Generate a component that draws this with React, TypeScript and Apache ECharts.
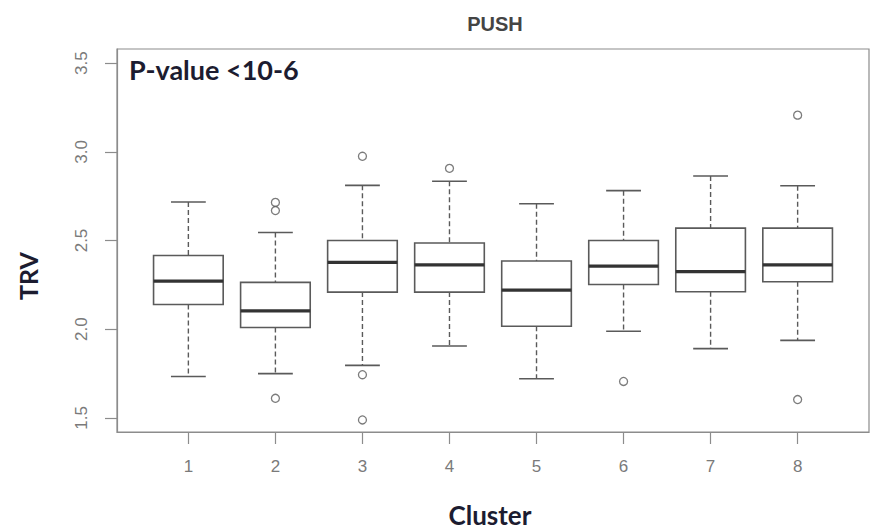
import React, { useEffect, useRef } from "react";
import * as echarts from "echarts";

const clusters = [1, 2, 3, 4, 5, 6, 7, 8];
const whiskerLow = [1.733, 1.749, 1.796, 1.905, 1.72, 1.988, 1.89, 1.937];
const q1 = [2.139, 2.009, 2.209, 2.209, 2.016, 2.252, 2.211, 2.267];
const median = [2.271, 2.103, 2.377, 2.362, 2.22, 2.356, 2.324, 2.362];
const q3 = [2.415, 2.264, 2.5, 2.486, 2.384, 2.5, 2.57, 2.57];
const whiskerHigh = [2.717, 2.545, 2.811, 2.834, 2.707, 2.781, 2.864, 2.809];
const outlierCluster = [2, 2, 2, 3, 3, 3, 4, 6, 8, 8];
const outlierValue = [2.715, 2.669, 1.61, 2.975, 1.743, 1.488, 2.907, 1.705, 3.207, 1.603];
const yTicks = [1.5, 2.0, 2.5, 3.0, 3.5];

const BOX_COLOR = "#5a5a5a";
const MED_COLOR = "#333333";
const AXIS_COLOR = "#8c8c8c";
const LABEL_COLOR = "#7a7a7a";

export default function App() {
  const ref = useRef<HTMLDivElement>(null);

  useEffect(() => {
    if (!ref.current) return;
    const chart = echarts.init(ref.current, null, { renderer: "svg" });

    const boxData = clusters.map((c, i) => [c, whiskerLow[i], q1[i], median[i], q3[i], whiskerHigh[i]]);
    const outData = outlierCluster.map((c, i) => [c, outlierValue[i]]);

    const renderItem = (params: any, api: any) => {
      const x = api.value(0);
      const lo = api.value(1);
      const a = api.value(2);
      const m = api.value(3);
      const b = api.value(4);
      const hi = api.value(5);
      const half = 0.4;
      const cap = 0.2;
      const pL = api.coord([x - half, a]);
      const pR = api.coord([x + half, b]);
      const center = api.coord([x, m]);
      const pLo = api.coord([x, lo]);
      const pHi = api.coord([x, hi]);
      const pA = api.coord([x, a]);
      const pB = api.coord([x, b]);
      const cL = api.coord([x - cap, lo])[0];
      const cR = api.coord([x + cap, lo])[0];
      const dash = { stroke: BOX_COLOR, lineWidth: 1.4, lineDash: [5, 3] };
      const solid = { stroke: BOX_COLOR, lineWidth: 1.6 };
      return {
        type: "group",
        children: [
          { type: "line", shape: { x1: pHi[0], y1: pHi[1], x2: pB[0], y2: pB[1] }, style: dash },
          { type: "line", shape: { x1: pA[0], y1: pA[1], x2: pLo[0], y2: pLo[1] }, style: dash },
          { type: "line", shape: { x1: cL, y1: pHi[1], x2: cR, y2: pHi[1] }, style: solid },
          { type: "line", shape: { x1: cL, y1: pLo[1], x2: cR, y2: pLo[1] }, style: solid },
          {
            type: "rect",
            shape: { x: pL[0], y: pR[1], width: pR[0] - pL[0], height: pL[1] - pR[1] },
            style: { fill: "#ffffff", stroke: BOX_COLOR, lineWidth: 1.6 },
          },
          {
            type: "line",
            shape: { x1: pL[0], y1: center[1], x2: pR[0], y2: center[1] },
            style: { stroke: MED_COLOR, lineWidth: 3.2 },
          },
        ],
      };
    };

    chart.setOption({
      animation: false,
      backgroundColor: "#ffffff",
      grid: {
        left: 117,
        right: 2,
        top: 49,
        bottom: 99,
        show: true,
        borderColor: AXIS_COLOR,
        borderWidth: 1.2,
        backgroundColor: "transparent",
      },
      xAxis: {
        type: "value",
        min: 0.18,
        max: 8.82,
        splitLine: { show: false },
        axisLine: { show: true, lineStyle: { color: AXIS_COLOR, width: 1.2 } },
        axisTick: { show: true, customValues: clusters, length: 12, lineStyle: { color: AXIS_COLOR, width: 1.2 } },
        axisLabel: {
          customValues: clusters,
          color: LABEL_COLOR,
          fontSize: 17,
          fontFamily: "Liberation Sans, Arial, sans-serif",
          margin: 26,
        },
      },
      yAxis: {
        type: "value",
        min: 1.42,
        max: 3.58,
        splitLine: { show: false },
        axisLine: { show: true, lineStyle: { color: AXIS_COLOR, width: 1.2 } },
        axisTick: { show: true, customValues: yTicks, length: 12, lineStyle: { color: AXIS_COLOR, width: 1.2 } },
        axisLabel: {
          customValues: yTicks,
          rotate: 90,
          color: LABEL_COLOR,
          fontSize: 17,
          fontFamily: "Liberation Sans, Arial, sans-serif",
          margin: 27,
          formatter: (v: number) => v.toFixed(1),
        },
      },
      graphic: [
        {
          type: "text",
          x: 495,
          y: 24,
          style: {
            text: "PUSH",
            fill: "#444444",
            font: "bold 20px 'Liberation Sans', Arial, sans-serif",
            textAlign: "center",
            textVerticalAlign: "middle",
          },
        },
        {
          type: "text",
          x: 129,
          y: 69,
          style: {
            text: "P-value <10-6",
            fill: "#1c1c30",
            font: "bold 27px Lato, 'Open Sans', sans-serif",
            textAlign: "left",
            textVerticalAlign: "middle",
          },
        },
        {
          type: "text",
          x: 28,
          y: 276,
          rotation: Math.PI / 2,
          style: {
            text: "TRV",
            fill: "#1c1c30",
            font: "bold 25px Lato, 'Open Sans', sans-serif",
            textAlign: "center",
            textVerticalAlign: "middle",
          },
        },
        {
          type: "text",
          x: 490,
          y: 515,
          style: {
            text: "Cluster",
            fill: "#1c1c30",
            font: "bold 26px Lato, 'Open Sans', sans-serif",
            textAlign: "center",
            textVerticalAlign: "middle",
          },
        },
      ],
      series: [
        {
          type: "custom",
          renderItem,
          data: boxData,
          encode: { x: 0, y: [1, 2, 3, 4, 5] },
          clip: false,
        },
        {
          type: "scatter",
          data: outData,
          symbol: "circle",
          symbolSize: 8,
          itemStyle: { color: "#ffffff", borderColor: BOX_COLOR, borderWidth: 1.3 },
        },
      ],
    });

    return () => chart.dispose();
  }, []);

  return <div ref={ref} style={{ position: "fixed", left: 0, top: 0, width: 871, height: 531 }} />;
}
